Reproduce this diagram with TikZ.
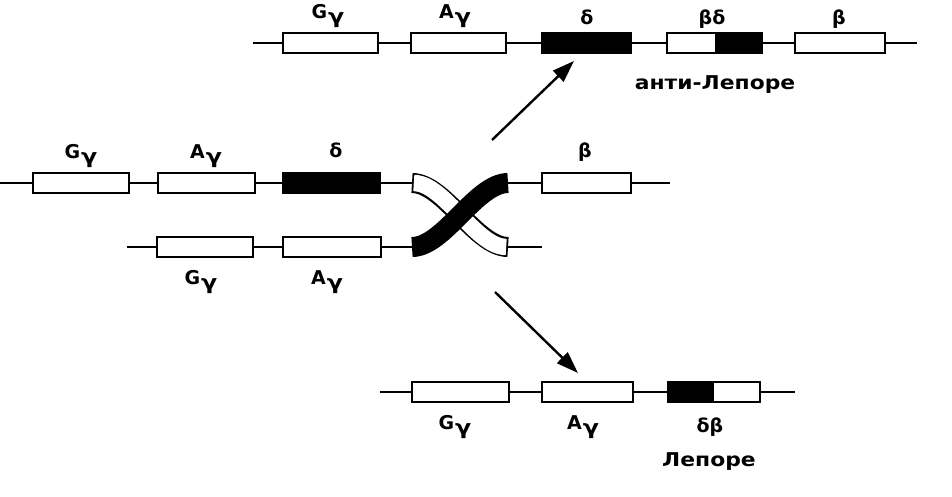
\documentclass[tikz,border=0pt]{standalone}
\usepackage{fontspec}
\usepackage{graphicx}
\setmainfont{DejaVu Sans}
\usetikzlibrary{arrows.meta}
\begin{document}
\begin{tikzpicture}[x=1pt,y=-1pt,
  dna/.style={line width=1.8pt},
  gene/.style={draw, fill=white, line width=1.8pt, minimum height=20pt, inner sep=0pt, outer sep=0pt},
  dark/.style={gene, fill=black},
  rightdark/.style={gene, path picture={\fill[black] (path picture bounding box.north) rectangle (path picture bounding box.south east);}},
  leftdark/.style={gene, path picture={\fill[black] (path picture bounding box.north west) rectangle (path picture bounding box.south);}},
  lab/.style={font=\fontsize{19}{19}\selectfont\bfseries, anchor=base, inner sep=0pt},
  kindlabel/.style={font=\fontsize{19}{19}\selectfont\bfseries, anchor=base, inner sep=0pt},
  arr/.style={line width=2.4pt, -{Triangle[length=22pt,width=15pt]}},
  band/.style={line width=20pt}
]
\useasboundingbox (0,0) rectangle (952,497);
\newcommand{\Gg}{G\kern1pt\raisebox{-5pt}{\scalebox{1.25}[1.05]{γ}}}
\newcommand{\Ag}{A\kern1pt\raisebox{-5pt}{\scalebox{1.25}[1.05]{γ}}}

% ---------- top row (anti-Lepore) ----------
\coordinate (t0) at (253,43);
\coordinate (t1) at (917,43);
\draw[dna] (t0) -- (t1);
\node[gene, minimum width=95pt] (tG) at (330.5,43) {};
\node[gene, minimum width=95pt] (tA) at (458.5,43) {};
\node[dark, minimum width=89pt] (tD) at (586.5,43) {};
\node[rightdark, minimum width=95pt] (tBD) at (714.5,43) {};
\node[gene, minimum width=90pt] (tB) at (840,43) {};
\node[lab] (ltG) at (328,19) {\Gg};
\node[lab] (ltA) at (455,19) {\Ag};
\node[lab] (ltD) at (587,25) {δ};
\node[lab] (ltBD) at (712,25) {βδ};
\node[lab] (ltB) at (839,25) {β};
\node[kindlabel] (anti) at (715,90) {\scalebox{1.15}[1]{анти-Лепоре}};

% ---------- middle upper chromosome ----------
\coordinate (m0) at (0,183);
\coordinate (m1) at (670,183);
\coordinate (xTL) at (412,183);
\coordinate (xTR) at (508,183);
\draw[dna] (m0) -- (xTL);
\draw[dna] (xTR) -- (m1);
\node[gene, minimum width=96pt] (mG) at (81,183) {};
\node[gene, minimum width=97pt] (mA) at (206.5,183) {};
\node[dark, minimum width=97pt] (mD) at (331.5,183) {};
\node[gene, minimum width=89pt] (mB) at (586.5,183) {};
\node[lab] (lmG) at (81,159) {\Gg};
\node[lab] (lmA) at (206,159) {\Ag};
\node[lab] (lmD) at (336,158) {δ};
\node[lab] (lmB) at (585,158) {β};

% ---------- middle lower chromosome ----------
\coordinate (n0) at (127,247);
\coordinate (n1) at (542,247);
\coordinate (xBL) at (412,247);
\coordinate (xBR) at (508,247);
\draw[dna] (n0) -- (xBL);
\draw[dna] (xBR) -- (n1);
\node[gene, minimum width=96pt] (nG) at (205,247) {};
\node[gene, minimum width=98pt] (nA) at (332,247) {};
\node[lab] (lnG) at (201,284) {\Gg};
\node[lab] (lnA) at (327,284) {\Ag};

% ---------- crossover ----------
\draw[band, black] (xTL) .. controls (444,183) and (476,247) .. (xBR);
\draw[line width=16.4pt, white, shorten <=1.8pt, shorten >=1.8pt] (xTL) .. controls (444,183) and (476,247) .. (xBR);
\draw[band, black] (xTR) .. controls (476,183) and (444,247) .. (xBL);

% ---------- bottom row (Lepore) ----------
\coordinate (b0) at (380,392);
\coordinate (b1) at (795,392);
\draw[dna] (b0) -- (b1);
\node[gene, minimum width=97pt] (bG) at (460.5,392) {};
\node[gene, minimum width=91pt] (bA) at (587.5,392) {};
\node[leftdark, minimum width=92pt] (bDB) at (714,392) {};
\node[lab] (lbG) at (455,429) {\Gg};
\node[lab] (lbA) at (583,429) {\Ag};
\node[lab] (lbDB) at (710,432) {δβ};
\node[kindlabel] (lep) at (709,466) {\scalebox{1.15}[1]{Лепоре}};

% ---------- arrows ----------
\coordinate (a1s) at (492,140);
\coordinate (a1e) at (574,61);
\draw[arr] (a1s) -- (a1e);
\coordinate (a2s) at (495,292);
\coordinate (a2e) at (578,373);
\draw[arr] (a2s) -- (a2e);
\end{tikzpicture}
\end{document}
